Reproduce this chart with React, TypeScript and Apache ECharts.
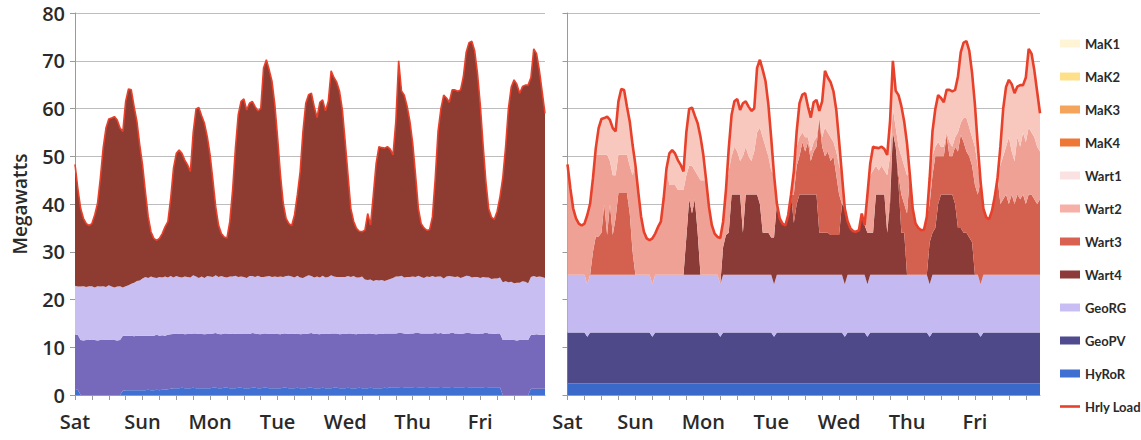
import React, { useEffect, useRef } from "react";
import * as echarts from "echarts";

// Week of hourly dispatch, Saturday 00:00 through Friday 23:00.
const dayNames = ["Sat", "Sun", "Mon", "Tue", "Wed", "Thu", "Fri"];

// Hourly system load (MW)
const hourlyLoad = [
  48.3, 43.3, 39.1, 37.0, 35.9, 35.5, 35.9, 37.7, 40.1, 45.4, 51.7, 55.9, 57.8, 58.0, 58.3, 57.6, 55.9, 55.2, 61.5, 64.1, 63.9, 60.4, 57.3, 52.4,
  48.2, 42.6, 37.4, 34.2, 32.8, 32.4, 32.8, 33.8, 35.2, 36.3, 41.2, 47.5, 50.6, 51.3, 50.6, 49.2, 48.2, 46.8, 55.0, 59.9, 60.2, 58.5, 56.9, 54.1,
  50.3, 45.0, 39.4, 35.6, 33.8, 33.1, 32.9, 36.3, 42.9, 51.7, 58.7, 61.5, 62.0, 59.7, 61.1, 61.5, 60.4, 59.5, 60.0, 68.5, 70.2, 68.1, 65.7, 60.8,
  53.8, 46.1, 40.1, 37.0, 35.9, 35.5, 37.7, 41.9, 46.8, 55.2, 61.1, 62.9, 63.2, 60.4, 58.1, 61.3, 61.8, 59.5, 61.5, 67.9, 66.5, 65.5, 63.6, 59.7,
  53.1, 46.1, 39.1, 36.4, 34.9, 34.3, 34.2, 34.5, 38.0, 35.6, 41.9, 48.5, 52.0, 51.8, 51.7, 52.0, 51.5, 50.3, 57.3, 70.0, 63.7, 62.8, 60.5, 57.3,
  52.7, 46.1, 39.1, 35.9, 35.0, 34.5, 34.6, 37.3, 45.4, 55.2, 59.9, 62.8, 62.2, 61.3, 63.9, 63.9, 63.6, 63.9, 66.7, 71.8, 73.8, 74.1, 72.1, 67.4,
  60.8, 52.4, 44.7, 39.0, 37.2, 36.8, 38.5, 41.5, 45.5, 52.0, 60.0, 64.5, 66.0, 65.1, 63.2, 64.6, 64.9, 64.9, 66.5, 72.5, 71.5, 68.0, 63.5, 59.0,
];

// ---- Case A (left panel): geothermal base with Wart4 following load ----
const hyRoRA = [
  1.1, 1.1, 0, 0, 0, 0, 0, 0, 0, 0, 0, 0, 0, 0, 0, 0, 0, 0.9, 1.0, 1.0, 1.0, 1.0, 1.0, 1.0,
  1.0, 1.0, 1.1, 1.0, 1.0, 1.1, 1.0, 1.1, 1.1, 1.2, 1.3, 1.4, 1.4, 1.4, 1.5, 1.4, 1.4, 1.4, 1.5, 1.4, 1.4, 1.4, 1.4, 1.4,
  1.4, 1.5, 1.5, 1.4, 1.4, 1.5, 1.5, 1.4, 1.4, 1.4, 1.5, 1.5, 1.4, 1.4, 1.4, 1.5, 1.5, 1.4, 1.4, 1.5, 1.5, 1.4, 1.4, 1.4,
  1.4, 1.4, 1.5, 1.5, 1.4, 1.4, 1.4, 1.5, 1.4, 1.4, 1.4, 1.5, 1.5, 1.4, 1.4, 1.4, 1.5, 1.4, 1.4, 1.4, 1.5, 1.5, 1.4, 1.4,
  1.4, 1.5, 1.4, 1.4, 1.4, 1.5, 1.4, 1.4, 1.4, 1.5, 1.4, 1.4, 1.4, 1.4, 1.5, 1.4, 1.6, 1.6, 1.6, 1.6, 1.7, 1.6, 1.6, 1.6,
  1.6, 1.7, 1.6, 1.6, 1.6, 1.7, 1.6, 1.6, 1.6, 1.6, 1.7, 1.6, 1.6, 1.6, 1.7, 1.6, 1.6, 1.6, 1.6, 1.7, 1.6, 1.6, 1.6, 1.6,
  1.6, 1.6, 1.7, 1.6, 1.6, 1.6, 1.6, 1.6, 0, 0, 0, 0, 0, 0, 0, 0, 0, 0, 1.3, 1.3, 1.3, 1.3, 1.3, 1.3,
];
const geoPVA = [
  11.5, 11.5, 11.5, 11.4, 11.5, 11.5, 11.6, 11.5, 11.4, 11.5, 11.5, 11.5, 11.6, 11.5, 11.5, 11.4, 11.5, 11.5, 11.4, 11.4, 11.4, 11.3, 11.4, 11.4,
  11.4, 11.4, 11.3, 11.4, 11.4, 11.5, 11.4, 11.4, 11.3, 11.4, 11.4, 11.4, 11.5, 11.4, 11.4, 11.3, 11.4, 11.4, 11.4, 11.5, 11.4, 11.4, 11.3, 11.4,
  11.4, 11.4, 11.5, 11.4, 11.3, 11.4, 11.4, 11.4, 11.5, 11.4, 11.4, 11.3, 11.4, 11.4, 11.4, 11.5, 11.4, 11.4, 11.3, 11.4, 11.4, 11.4, 11.5, 11.4,
  11.4, 11.3, 11.4, 11.4, 11.4, 11.5, 11.4, 11.4, 11.3, 11.4, 11.4, 11.4, 11.5, 11.4, 11.4, 11.3, 11.4, 11.4, 11.4, 11.5, 11.4, 11.4, 11.3, 11.4,
  11.4, 11.4, 11.5, 11.4, 11.3, 11.4, 11.4, 11.4, 11.5, 11.4, 11.4, 11.3, 11.4, 11.4, 11.4, 11.5, 11.3, 11.3, 11.3, 11.4, 11.3, 11.3, 11.2, 11.3,
  11.3, 11.3, 11.4, 11.3, 11.3, 11.2, 11.3, 11.3, 11.4, 11.3, 11.3, 11.2, 11.3, 11.3, 11.4, 11.3, 11.3, 11.2, 11.3, 11.3, 11.4, 11.3, 11.3, 11.2,
  11.3, 11.3, 11.4, 11.3, 11.3, 11.2, 11.3, 11.3, 11.5, 11.5, 11.6, 11.5, 11.5, 11.4, 11.5, 11.5, 11.6, 11.5, 11.3, 11.3, 11.4, 11.3, 11.3, 11.3,
];
const geoRGA = [
  10.3, 10.1, 11.2, 11.4, 11.1, 11.3, 11.2, 11.0, 11.4, 11.2, 11.3, 11.1, 11.4, 11.2, 11.0, 11.3, 11.3, 10.1, 10.4, 10.6, 10.9, 11.2, 11.5, 11.6,
  12.0, 12.3, 12.1, 12.4, 12.2, 11.9, 12.3, 12.1, 12.4, 12.0, 12.2, 11.8, 12.0, 11.9, 11.7, 12.1, 11.9, 11.8, 12.2, 11.9, 11.7, 12.0, 11.8, 12.1,
  12.0, 11.8, 12.1, 11.9, 12.2, 11.8, 11.7, 12.0, 11.9, 12.2, 11.8, 12.0, 11.9, 11.7, 12.1, 11.9, 11.8, 12.2, 12.0, 11.8, 11.9, 12.1, 11.8, 12.0,
  11.9, 12.1, 11.8, 12.0, 12.2, 11.9, 11.8, 12.1, 11.9, 11.7, 12.0, 12.2, 11.9, 11.8, 12.0, 11.9, 12.1, 11.8, 11.9, 12.2, 11.9, 11.8, 12.0, 11.9,
  11.9, 12.0, 11.8, 12.1, 11.9, 11.7, 12.0, 11.4, 11.2, 11.3, 11.1, 11.4, 11.2, 11.3, 11.0, 11.2, 11.4, 11.6, 11.9, 11.8, 12.0, 11.7, 11.9, 11.8,
  11.9, 11.7, 12.0, 11.8, 11.6, 11.9, 11.8, 12.0, 11.7, 11.9, 11.8, 11.6, 11.9, 12.0, 11.7, 11.8, 11.9, 11.7, 11.8, 12.0, 11.9, 11.7, 11.8, 11.9,
  11.6, 11.8, 11.5, 11.7, 11.4, 11.6, 11.5, 11.7, 12.1, 12.3, 12.0, 12.2, 11.9, 12.1, 12.0, 12.3, 12.1, 11.9, 12.1, 12.3, 12.0, 12.2, 12.1, 11.9,
];

// ---- Case B (right panel): flat geothermal base, Wärtsilä units on top ----
const hyRoRB = [
  2.4, 2.4, 2.4, 2.4, 2.4, 2.4, 2.4, 2.4, 2.4, 2.4, 2.4, 2.4, 2.4, 2.4, 2.4, 2.4, 2.4, 2.4, 2.4, 2.4, 2.4, 2.4, 2.4, 2.4,
  2.4, 2.4, 2.4, 2.4, 2.4, 2.4, 2.4, 2.4, 2.4, 2.4, 2.4, 2.4, 2.4, 2.4, 2.4, 2.4, 2.4, 2.4, 2.4, 2.4, 2.4, 2.4, 2.4, 2.4,
  2.4, 2.4, 2.4, 2.4, 2.4, 2.4, 2.4, 2.4, 2.4, 2.4, 2.4, 2.4, 2.4, 2.4, 2.4, 2.4, 2.4, 2.4, 2.4, 2.4, 2.4, 2.4, 2.4, 2.4,
  2.4, 2.4, 2.4, 2.4, 2.4, 2.4, 2.4, 2.4, 2.4, 2.4, 2.4, 2.4, 2.4, 2.4, 2.4, 2.4, 2.4, 2.4, 2.4, 2.4, 2.4, 2.4, 2.4, 2.4,
  2.4, 2.4, 2.4, 2.4, 2.4, 2.4, 2.4, 2.4, 2.4, 2.4, 2.4, 2.4, 2.4, 2.4, 2.4, 2.4, 2.4, 2.4, 2.4, 2.4, 2.4, 2.4, 2.4, 2.4,
  2.4, 2.4, 2.4, 2.4, 2.4, 2.4, 2.4, 2.4, 2.4, 2.4, 2.4, 2.4, 2.4, 2.4, 2.4, 2.4, 2.4, 2.4, 2.4, 2.4, 2.4, 2.4, 2.4, 2.4,
  2.4, 2.4, 2.4, 2.4, 2.4, 2.4, 2.4, 2.4, 2.4, 2.4, 2.4, 2.4, 2.4, 2.4, 2.4, 2.4, 2.4, 2.4, 2.4, 2.4, 2.4, 2.4, 2.4, 2.4,
];
const geoPVB = [
  10.7, 10.7, 10.7, 10.7, 10.7, 10.7, 10.7, 9.8, 10.7, 10.7, 10.7, 10.7, 10.7, 10.7, 10.7, 10.7, 10.7, 10.7, 10.7, 10.7, 10.7, 10.7, 10.7, 10.7,
  10.7, 10.7, 10.7, 10.7, 10.7, 10.7, 9.8, 10.7, 10.7, 10.7, 10.7, 10.7, 10.7, 10.7, 10.7, 10.7, 10.7, 10.7, 10.7, 10.7, 10.7, 10.7, 10.7, 10.7,
  10.7, 10.7, 10.7, 10.7, 10.7, 10.7, 9.8, 10.7, 10.7, 10.7, 10.7, 10.7, 10.7, 10.7, 10.7, 10.7, 10.7, 10.7, 10.7, 10.7, 10.7, 10.7, 10.7, 10.7,
  10.7, 9.8, 10.7, 10.7, 10.7, 10.7, 10.7, 10.7, 10.7, 10.7, 10.7, 10.7, 10.7, 10.7, 10.7, 10.7, 10.7, 10.7, 10.7, 10.7, 10.7, 10.7, 10.7, 10.7,
  10.7, 10.7, 9.8, 10.7, 10.7, 10.7, 10.7, 10.7, 10.7, 10.7, 9.8, 10.7, 10.7, 10.7, 10.7, 10.7, 10.7, 10.7, 10.7, 10.7, 10.7, 10.7, 10.7, 10.7,
  10.7, 10.7, 10.7, 10.7, 10.7, 10.7, 10.7, 10.7, 9.8, 10.7, 10.7, 10.7, 10.7, 10.7, 10.7, 10.7, 10.7, 10.7, 10.7, 10.7, 10.7, 10.7, 10.7, 10.7,
  10.7, 10.7, 9.8, 10.7, 10.7, 10.7, 10.7, 10.7, 10.7, 10.7, 10.7, 10.7, 10.7, 10.7, 10.7, 10.7, 10.7, 10.7, 10.7, 10.7, 10.7, 10.7, 10.7, 10.7,
];
const geoRGB = [
  12.1, 12.1, 12.1, 12.1, 12.1, 12.1, 12.1, 11.0, 12.1, 12.1, 12.1, 12.1, 12.1, 12.1, 12.1, 12.1, 12.1, 12.1, 12.1, 12.1, 12.1, 12.1, 12.1, 12.1,
  12.1, 12.1, 12.1, 12.1, 12.1, 12.1, 11.0, 12.1, 12.1, 12.1, 12.1, 12.1, 12.1, 12.1, 12.1, 12.1, 12.1, 12.1, 12.1, 12.1, 12.1, 12.1, 12.1, 12.1,
  12.1, 12.1, 12.1, 12.1, 12.1, 12.1, 11.0, 12.1, 12.1, 12.1, 12.1, 12.1, 12.1, 12.1, 12.1, 12.1, 12.1, 12.1, 12.1, 12.1, 12.1, 12.1, 12.1, 12.1,
  12.1, 11.0, 12.1, 12.1, 12.1, 12.1, 12.1, 12.1, 12.1, 12.1, 12.1, 12.1, 12.1, 12.1, 12.1, 12.1, 12.1, 12.1, 12.1, 12.1, 12.1, 12.1, 12.1, 12.1,
  12.1, 12.1, 11.0, 12.1, 12.1, 12.1, 12.1, 12.1, 12.1, 12.1, 11.0, 12.1, 12.1, 12.1, 12.1, 12.1, 12.1, 12.1, 12.1, 12.1, 12.1, 12.1, 12.1, 12.1,
  12.1, 12.1, 12.1, 12.1, 12.1, 12.1, 12.1, 12.1, 11.0, 12.1, 12.1, 12.1, 12.1, 12.1, 12.1, 12.1, 12.1, 12.1, 12.1, 12.1, 12.1, 12.1, 12.1, 12.1,
  12.1, 12.1, 11.0, 12.1, 12.1, 12.1, 12.1, 12.1, 12.1, 12.1, 12.1, 12.1, 12.1, 12.1, 12.1, 12.1, 12.1, 12.1, 12.1, 12.1, 12.1, 12.1, 12.1, 12.1,
];
const wart4B = [
  0, 0, 0, 0, 0, 0, 0, 0, 0, 0, 0, 0, 0, 0, 0, 0, 0, 0, 0, 0, 0, 0, 0, 0,
  0, 0, 0, 0, 0, 0, 0, 0, 0, 0, 0, 0, 0, 0, 0, 0, 0, 0, 7.8, 15.8, 12.8, 15.8, 8.8, 0,
  0, 0, 0, 0, 0, 0, 0, 5.8, 8.3, 8.8, 16.8, 16.8, 16.8, 16.8, 8.8, 16.8, 16.8, 16.8, 16.8, 16.8, 14.8, 8.8, 8.8, 8.8,
  7.8, 9.8, 14.9, 11.8, 10.7, 10.3, 12.5, 16.7, 10.8, 14.8, 16.8, 16.8, 16.8, 16.8, 16.8, 16.8, 16.8, 8.8, 8.8, 8.8, 8.8, 8.3, 8.3, 8.3,
  8.3, 14.8, 15.9, 11.2, 9.7, 9.1, 9.0, 9.3, 12.8, 10.4, 10.8, 8.8, 8.8, 16.8, 16.8, 16.8, 16.8, 8.8, 14.8, 29.8, 26.8, 18.8, 8.8, 8.8,
  0, 0, 0, 0, 0, 0, 0, 0, 8.8, 8.8, 9.8, 14.8, 16.8, 16.8, 16.8, 16.8, 16.8, 14.8, 9.8, 9.8, 8.8, 8.8, 7.8, 6.8,
  0, 0, 0, 0, 0, 0, 0, 0, 0, 0, 0, 0, 0, 0, 0, 0, 0, 0, 0, 0, 0, 0, 0, 0,
];
const wart3B = [
  0, 0, 0, 0, 0, 0, 0, 0, 0, 4.8, 8.0, 8.0, 8.8, 14.8, 8.3, 14.8, 8.3, 11.8, 17.1, 17.1, 17.1, 17.1, 12.8, 4.8,
  0, 0, 0, 0, 0, 0, 0, 0, 0, 0, 0, 0, 0, 0, 0, 0, 0, 0, 0, 0, 0, 0, 0, 0,
  0, 0, 0, 0, 0, 0, 0, 0, 0, 0, 0, 0, 0, 0, 0, 0, 0, 0, 0, 0, 0, 0, 0, 0,
  0, 0, 0, 0, 0, 0, 0, 0, 6.0, 8.0, 8.0, 11.0, 9.0, 11.0, 7.0, 9.0, 10.0, 24.0, 18.0, 16.0, 17.0, 15.5, 16.5, 12.5,
  8.5, 0, 0, 0, 0, 0, 0, 0, 0, 0, 0, 0, 0, 0, 0, 0, 0, 0, 2.0, 0, 0, 2.0, 8.0, 6.0,
  12.8, 20.9, 13.9, 10.7, 9.8, 9.3, 9.4, 12.1, 8.0, 12.0, 15.0, 10.0, 8.0, 8.0, 12.5, 8.0, 8.0, 12.0, 16.0, 19.5, 19.0, 17.0, 17.0, 16.0,
  18.8, 16.8, 21.5, 13.8, 12.0, 11.6, 13.3, 16.3, 20.3, 14.8, 15.8, 16.8, 14.8, 16.8, 14.8, 16.8, 15.8, 16.8, 14.8, 16.8, 16.8, 15.8, 14.8, 15.8,
];
const wart2B = [
  23.1, 18.1, 13.9, 11.8, 10.7, 10.3, 10.7, 14.5, 14.9, 15.4, 17.1, 17.1, 16.3, 10.3, 16.8, 9.0, 12.5, 9.0, 8.0, 8.0, 8.0, 8.0, 10.0, 16.0,
  23.0, 17.4, 12.2, 9.0, 7.6, 7.2, 9.6, 8.6, 10.0, 11.1, 16.0, 22.3, 18.8, 18.8, 18.8, 17.8, 17.8, 17.8, 13.0, 7.0, 10.0, 6.0, 12.0, 19.8,
  19.8, 19.8, 14.2, 10.4, 8.6, 7.9, 9.7, 5.3, 9.4, 13.0, 8.0, 10.0, 9.0, 7.0, 16.0, 10.0, 8.0, 7.0, 9.0, 13.0, 16.0, 20.0, 18.0, 16.0,
  14.0, 13.1, 0, 0, 0, 0, 0, 0, 4.8, 4.0, 4.0, 2.0, 3.0, 1.0, 2.0, 2.0, 2.0, 0, 2.0, 6.0, 4.0, 5.0, 3.0, 5.0,
  6.0, 6.1, 0, 0, 0, 0, 0, 0, 0, 0, 7.9, 12.0, 13.0, 6.0, 5.0, 6.0, 5.0, 12.0, 8.0, 5.0, 4.0, 6.0, 8.0, 8.0,
  8.0, 0, 0, 0, 0, 0, 0, 0, 5.4, 4.0, 2.0, 3.0, 2.0, 2.0, 0.5, 3.0, 2.0, 2.0, 4.0, 2.5, 5.0, 7.0, 6.0, 6.0,
  8.0, 6.0, 0, 0, 0, 0, 0, 0, 0, 8.2, 9.0, 10.0, 14.0, 9.0, 9.0, 12.0, 11.0, 13.0, 13.0, 14.0, 13.0, 13.0, 12.0, 10.0,
];
// MaK units are not dispatched during this week
const makOutput: number[] = [];

const hours = hourlyLoad.map((_, i) => String(i));

const round2 = (v: number) => Math.max(0, Math.round(v * 100) / 100);
// The top layer of each stack carries whatever load is left after the units below it
const wart4A = hourlyLoad.map((v, i) => round2(v - hyRoRA[i] - geoPVA[i] - geoRGA[i]));
const wart1B = hourlyLoad.map((v, i) =>
  round2(v - hyRoRB[i] - geoPVB[i] - geoRGB[i] - wart4B[i] - wart3B[i] - wart2B[i])
);

const legendColors: Record<string, string> = {
  MaK1: "#FFF5D6",
  MaK2: "#FFE08A",
  MaK3: "#F5A45C",
  MaK4: "#EF7736",
  Wart1: "#FBE2E2",
  Wart2: "#F6B0A7",
  Wart3: "#D9614F",
  Wart4: "#8D3B3A",
  GeoRG: "#C8BEF4",
  GeoPV: "#4F4B8E",
  HyRoR: "#3F6FD0",
  "Hrly Load": "#E8412B",
};
const legendOrder = ["MaK1", "MaK2", "MaK3", "MaK4", "Wart1", "Wart2", "Wart3", "Wart4", "GeoRG", "GeoPV", "HyRoR", "Hrly Load"];

const AXIS_FONT = "'Open Sans', sans-serif";
const LEGEND_FONT = "Lato, 'Open Sans', sans-serif";

function area(name: string, data: number[], color: string, idx: number, stack: string) {
  return {
    name,
    type: "line",
    data,
    stack,
    xAxisIndex: idx,
    yAxisIndex: idx,
    symbol: "none",
    showSymbol: false,
    color,
    lineStyle: { width: 0 },
    areaStyle: { color, opacity: 1 },
    emphasis: { disabled: true },
    silent: true,
    z: 2,
  };
}

function loadLine(idx: number, width: number) {
  return {
    name: "Hrly Load",
    type: "line",
    data: hourlyLoad,
    xAxisIndex: idx,
    yAxisIndex: idx,
    symbol: "none",
    showSymbol: false,
    color: "#E8412B",
    lineStyle: { color: "#E8412B", width },
    emphasis: { disabled: true },
    silent: true,
    z: 5,
  };
}

function xAxis(idx: number) {
  return {
    type: "category",
    gridIndex: idx,
    data: hours,
    boundaryGap: false,
    axisLine: { show: true, lineStyle: { color: "#9A9A9A", width: 1 } },
    axisTick: { show: true, interval: 5, length: 5, lineStyle: { color: "#9A9A9A" } },
    axisLabel: {
      interval: 23,
      margin: 16,
      fontSize: 20,
      fontWeight: 600,
      fontFamily: AXIS_FONT,
      color: "#2a2a2a",
      formatter: (_: string, i: number) => dayNames[Math.floor(i / 24)] ?? "",
    },
    splitLine: { show: false },
  };
}

function yAxis(idx: number, showLabels: boolean) {
  return {
    type: "value",
    gridIndex: idx,
    min: 0,
    max: 80,
    interval: 10,
    name: showLabels ? "Megawatts" : "",
    nameLocation: "middle",
    nameGap: 46,
    nameTextStyle: { fontSize: 19, fontWeight: 600, fontFamily: AXIS_FONT, color: "#2a2a2a" },
    axisLine: { show: true, lineStyle: { color: "#9A9A9A", width: 1 } },
    axisTick: { show: true, length: 5, lineStyle: { color: "#9A9A9A" } },
    axisLabel: { show: showLabels, fontSize: 20, fontWeight: 600, fontFamily: AXIS_FONT, color: "#2a2a2a", margin: 10 },
    splitLine: { show: true, lineStyle: { color: "#BDBDBD", width: 1 } },
  };
}

export default function App() {
  const ref = useRef<HTMLDivElement>(null);

  useEffect(() => {
    if (!ref.current) return;
    const chart = echarts.init(ref.current, null, { renderer: "svg" });

    const option = {
      animation: false,
      backgroundColor: "#ffffff",
      grid: [
        { left: 75, top: 13, width: 470, height: 382, outerBoundsMode: "none" },
        { left: 567.5, top: 13, width: 472.5, height: 382, outerBoundsMode: "none" },
      ],
      xAxis: [xAxis(0), xAxis(1)],
      yAxis: [yAxis(0, true), yAxis(1, false)],
      legend: {
        orient: "vertical",
        left: 1055,
        top: 32,
        itemWidth: 20,
        itemHeight: 8,
        itemGap: 20,
        selectedMode: false,
        textStyle: { fontSize: 13, fontWeight: "bold", fontFamily: LEGEND_FONT, color: "#2a2a2a" },
        data: legendOrder.map((name) =>
          name === "Hrly Load"
            ? { name, icon: "path://M0,0H20V2.6H0Z", itemStyle: { color: legendColors[name], borderWidth: 0 } }
            : { name, icon: "rect", itemStyle: { color: legendColors[name], borderWidth: 0 } }
        ),
      },
      series: [
        // left panel
        area("HyRoR", hyRoRA, "#3F70D2", 0, "a"),
        area("GeoPV", geoPVA, "#7668BB", 0, "a"),
        area("GeoRG", geoRGA, "#C9BEF2", 0, "a"),
        area("Wart4", wart4A, "#8E3B31", 0, "a"),
        loadLine(0, 1.6),
        // right panel
        area("HyRoR", hyRoRB, "#3B69C9", 1, "b"),
        area("GeoPV", geoPVB, "#4E4A8A", 1, "b"),
        area("GeoRG", geoRGB, "#C5B9F2", 1, "b"),
        area("Wart4", wart4B, "#8A3A37", 1, "b"),
        area("Wart3", wart3B, "#D4614F", 1, "b"),
        area("Wart2", wart2B, "#F0A195", 1, "b"),
        area("Wart1", wart1B, "#F8C8BE", 1, "b"),
        area("MaK4", makOutput, "#EF7736", 1, "b"),
        area("MaK3", makOutput, "#F5A45C", 1, "b"),
        area("MaK2", makOutput, "#FFE08A", 1, "b"),
        area("MaK1", makOutput, "#FFF5D6", 1, "b"),
        loadLine(1, 2.6),
      ],
    };

    chart.setOption(option as any);
    return () => chart.dispose();
  }, []);

  return (
    <div
      ref={ref}
      style={{ position: "fixed", left: 0, top: 0, width: 1141, height: 440, background: "#ffffff" }}
    />
  );
}
